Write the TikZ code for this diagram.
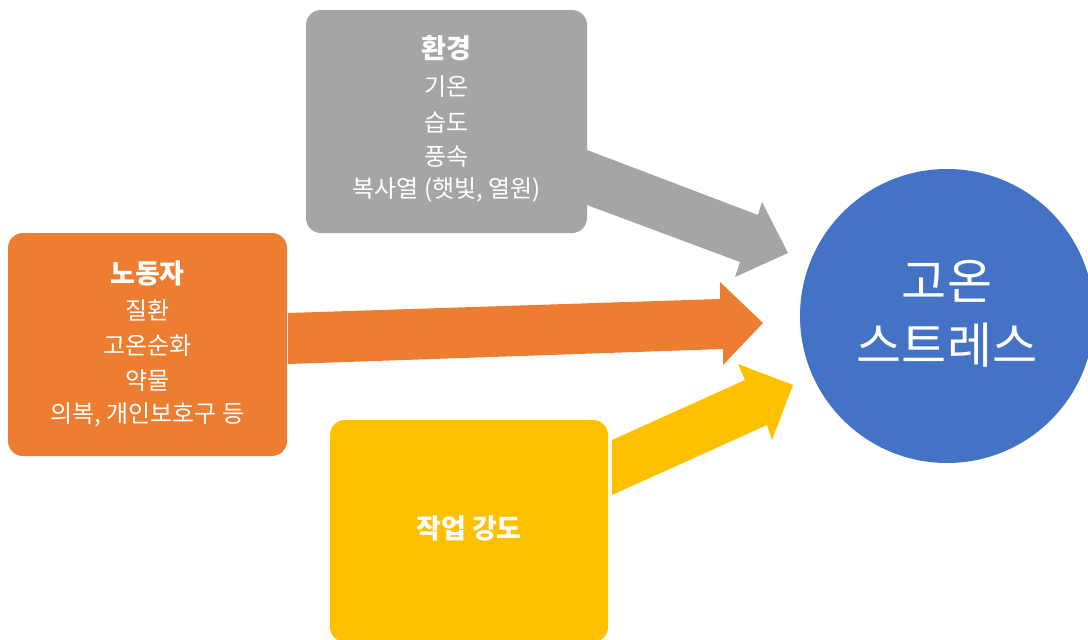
\documentclass[tikz,border=0pt]{standalone}
\usepackage{fontspec}
\newfontfamily\kr{Noto Sans CJK KR}
\definecolor{cgray}{HTML}{A5A5A5}
\definecolor{corange}{HTML}{ED7D31}
\definecolor{cyellow}{HTML}{FFC000}
\definecolor{cblue}{HTML}{4472C4}
\begin{document}
\begin{tikzpicture}[x=1pt,y=-1pt,
  boxnode/.style={rectangle,rounded corners=15pt,inner sep=0pt,draw=none},
  body/.style={text=white,font=\kr\fontsize{24}{28}\selectfont,inner sep=0pt},
  title/.style={text=white,font=\kr\bfseries\fontsize{27}{32}\selectfont,inner sep=0pt},
  big/.style={text=white,font=\kr\fontsize{49}{56}\selectfont,inner sep=0pt}]
\useasboundingbox (0,0) rectangle (1088,640);
\fill[white] (0,0) rectangle (1088,640);
% boxes
\node[boxnode,fill=cgray,minimum width=281pt,minimum height=223pt] (env) at (446.5,121.5) {};
\node[boxnode,fill=corange,minimum width=279pt,minimum height=223pt] (worker) at (147.5,344.5) {};
\node[boxnode,fill=cyellow,minimum width=278pt,minimum height=222pt] (work) at (469,531) {};
\node[circle,fill=cblue,minimum size=294pt,inner sep=0pt] (stress) at (947,316) {};
% arrows
\fill[cgray] (587,150) -- (758,215) -- (762,202) -- (788,253) -- (735,277) -- (740,262) -- (587,205) -- cycle;
\fill[corange] (288,313) -- (720,299) -- (720,282) -- (763,323) -- (723,365) -- (723,349) -- (288,364) -- cycle;
\fill[cyellow] (612,440) -- (745,380) -- (738,364) -- (793,385) -- (772,440) -- (767,425) -- (612,495) -- cycle;
% gray texts
\node[title] (envt) at (446.5,48) {환경};
\node[body] (env1) at (446.5,87) {기온};
\node[body] (env2) at (446.5,122) {습도};
\node[body] (env3) at (446.5,157) {풍속};
\node[body] (env4) at (446.5,190) {복사열 (햇빛, 열원)};
% orange texts
\node[title] (workert) at (147.5,273) {노동자};
\node[body] (worker1) at (147.5,310) {질환};
\node[body] (worker2) at (147.5,346) {고온순화};
\node[body] (worker3) at (147.5,381) {약물};
\node[body] (worker4) at (147.5,415) {의복, 개인보호구 등};
% yellow text
\node[title] (workt) at (469,528) {작업 강도};
% circle text
\node[big] (s1) at (947,281) {고온};
\node[big] (s2) at (947,345) {스트레스};
\end{tikzpicture}
\end{document}
